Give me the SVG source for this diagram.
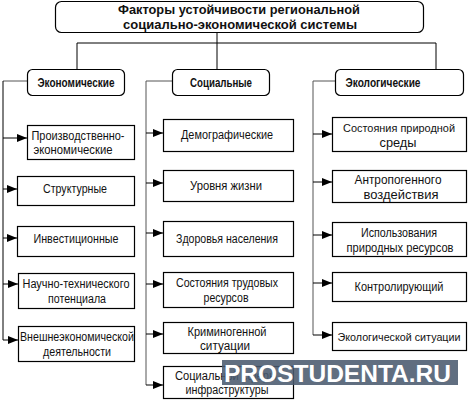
<svg xmlns="http://www.w3.org/2000/svg" width="468" height="400" viewBox="0 0 468 400">
<defs>
<marker id="ah" markerUnits="userSpaceOnUse" markerWidth="10" markerHeight="8" refX="10" refY="4" orient="auto">
<path d="M0,0 L10,4 L0,8 Z" fill="#000"/>
</marker>
<style>
.b{fill:#fff;stroke:#000;stroke-width:1.2}
.t{font-family:"Liberation Sans",Arial,sans-serif;font-size:12.5px;fill:#111;text-anchor:middle}
.s{font-size:11.5px}
.h{font-family:"Liberation Sans",Arial,sans-serif;font-size:13px;font-weight:bold;fill:#111;text-anchor:middle}
.ti{font-family:"Liberation Sans",Arial,sans-serif;font-size:12.5px;font-weight:bold;fill:#111;text-anchor:middle}
.c{fill:none;stroke:#000;stroke-width:1}
.cg{fill:none;stroke:#555;stroke-width:1}
.a{fill:none;stroke:#000;stroke-width:1;marker-end:url(#ah)}
</style>
</defs>
<g id="connectors">
<path class="c" d="M217,32 V43 M77,69 V43 H436 V69 M217,43 V69"/>
<path class="cg" d="M27,81 H3"/>
<path class="c" d="M3,81 V340"/>
<path class="cg" d="M172,81 H146 V385 M335,81 H313 V335"/>
<path class="a" d="M3,138 H27"/>
<path class="a" d="M3,189 H17"/>
<path class="a" d="M3,238 H17"/>
<path class="a" d="M3,284 H18"/>
<path class="a" d="M3,340 H18"/>
<path class="a" d="M146,133 H163"/>
<path class="a" d="M146,183 H163"/>
<path class="a" d="M146,233 H163"/>
<path class="a" d="M146,284 H163"/>
<path class="a" d="M146,334 H163"/>
<path class="a" d="M146,385 H163"/>
<path class="a" d="M313,134 H332"/>
<path class="a" d="M313,182 H332"/>
<path class="a" d="M313,235 H332"/>
<path class="a" d="M313,283 H332"/>
<path class="a" d="M313,335 H332"/>
</g>
<g id="title"><rect class="b" x="55.5" y="1.5" width="368" height="31" rx="6"/>
<text class="ti" x="239" y="13.5" textLength="242" lengthAdjust="spacingAndGlyphs">Факторы устойчивости региональной</text>
<text class="ti" x="240" y="28.5" textLength="234" lengthAdjust="spacingAndGlyphs">социально-экономической системы</text></g>
<g id="econ"><rect class="b" x="27.5" y="69.5" width="97" height="26" rx="5"/><text class="h" x="76" y="87" textLength="77" lengthAdjust="spacingAndGlyphs">Экономические</text></g>
<g id="soc"><rect class="b" x="172.5" y="69.5" width="97" height="26" rx="5"/><text class="h" x="221" y="87" textLength="62" lengthAdjust="spacingAndGlyphs">Социальные</text></g>
<g id="ecol"><rect class="b" x="335.5" y="69.5" width="128" height="26" rx="5"/><text class="h" x="383" y="87" textLength="75" lengthAdjust="spacingAndGlyphs">Экологические</text></g>

<g id="e1"><rect class="b" x="27.5" y="125.5" width="107" height="34"/><text class="t" x="78" y="139.5" textLength="93" lengthAdjust="spacingAndGlyphs">Производственно-</text><text class="t" x="73" y="154" textLength="79" lengthAdjust="spacingAndGlyphs">экономические</text></g>
<g id="e2"><rect class="b" x="17.5" y="176.5" width="117" height="29"/><text class="t" x="75" y="192.5" textLength="64" lengthAdjust="spacingAndGlyphs">Структурные</text></g>
<g id="e3"><rect class="b" x="17.5" y="226.5" width="117" height="30"/><text class="t" x="76" y="242.5" textLength="85" lengthAdjust="spacingAndGlyphs">Инвестиционные</text></g>
<g id="e4"><rect class="b" x="18.5" y="273.5" width="116" height="35"/><text class="t" x="76" y="287.5" textLength="107" lengthAdjust="spacingAndGlyphs">Научно-технического</text><text class="t" x="77" y="302.5" textLength="58" lengthAdjust="spacingAndGlyphs">потенциала</text></g>
<g id="e5"><rect class="b" x="18.5" y="326.5" width="116" height="35"/><text class="t" x="77" y="340.5" textLength="114" lengthAdjust="spacingAndGlyphs">Внешнеэкономической</text><text class="t" x="77" y="355.5" textLength="68" lengthAdjust="spacingAndGlyphs">деятельности</text></g>

<g id="s1"><rect class="b" x="163.5" y="119.5" width="130" height="32"/><text class="t" x="227" y="138.5" textLength="92" lengthAdjust="spacingAndGlyphs">Демографические</text></g>
<g id="s2"><rect class="b" x="163.5" y="170.5" width="130" height="31"/><text class="t" x="226" y="189.5" textLength="72" lengthAdjust="spacingAndGlyphs">Уровня жизни</text></g>
<g id="s3"><rect class="b" x="163.5" y="221.5" width="130" height="35"/><text class="t" x="227" y="242.5" textLength="102" lengthAdjust="spacingAndGlyphs">Здоровья населения</text></g>
<g id="s4"><rect class="b" x="163.5" y="272.5" width="130" height="35"/><text class="t" x="227" y="286.5" textLength="102" lengthAdjust="spacingAndGlyphs">Состояния трудовых</text><text class="t" x="226" y="301.5" textLength="45" lengthAdjust="spacingAndGlyphs">ресурсов</text></g>
<g id="s5"><rect class="b" x="163.5" y="322.5" width="130" height="31"/><text class="t" x="227" y="335.5" textLength="79" lengthAdjust="spacingAndGlyphs">Криминогенной</text><text class="t" x="225" y="349.5" textLength="50" lengthAdjust="spacingAndGlyphs">ситуации</text></g>
<g id="s6"><rect class="b" x="163.5" y="366.5" width="130" height="32"/><text class="t" x="226" y="379.5" textLength="102" lengthAdjust="spacingAndGlyphs">Социальной сферы</text><text class="t" x="227" y="394" textLength="83" lengthAdjust="spacingAndGlyphs">инфраструктуры</text></g>

<g id="g1"><rect class="b" x="332.5" y="117.5" width="134" height="34"/><text class="t s" x="399" y="131.5" textLength="112" lengthAdjust="spacingAndGlyphs">Состояния природной</text><text class="t" x="398" y="146.5" textLength="37" lengthAdjust="spacingAndGlyphs">среды</text></g>
<g id="g2"><rect class="b" x="332.5" y="170.5" width="134" height="32"/><text class="t" x="398" y="183.5" textLength="87" lengthAdjust="spacingAndGlyphs">Антропогенного</text><text class="t" x="401" y="198.5" textLength="75" lengthAdjust="spacingAndGlyphs">воздействия</text></g>
<g id="g3"><rect class="b" x="332.5" y="222.5" width="134" height="34"/><text class="t" x="399" y="236.5" textLength="76" lengthAdjust="spacingAndGlyphs">Использования</text><text class="t" x="400" y="251.5" textLength="107" lengthAdjust="spacingAndGlyphs">природных ресурсов</text></g>
<g id="g4"><rect class="b" x="332.5" y="272.5" width="134" height="29"/><text class="t" x="399" y="290.5" textLength="89" lengthAdjust="spacingAndGlyphs">Контролирующий</text></g>
<g id="g5"><rect class="b" x="332.5" y="322.5" width="134" height="28"/><text class="t s" x="399" y="340.5" textLength="123" lengthAdjust="spacingAndGlyphs">Экологической ситуации</text></g>

<g id="watermark"><rect x="222" y="360" width="236" height="25" fill="#4a5a6e" fill-opacity="0.88"/>
<text x="224" y="382" font-family="Liberation Sans,Arial,sans-serif" font-weight="bold" font-size="24" fill="#fff" textLength="227" lengthAdjust="spacingAndGlyphs">PROSTUDENTA.RU</text></g>
</svg>
